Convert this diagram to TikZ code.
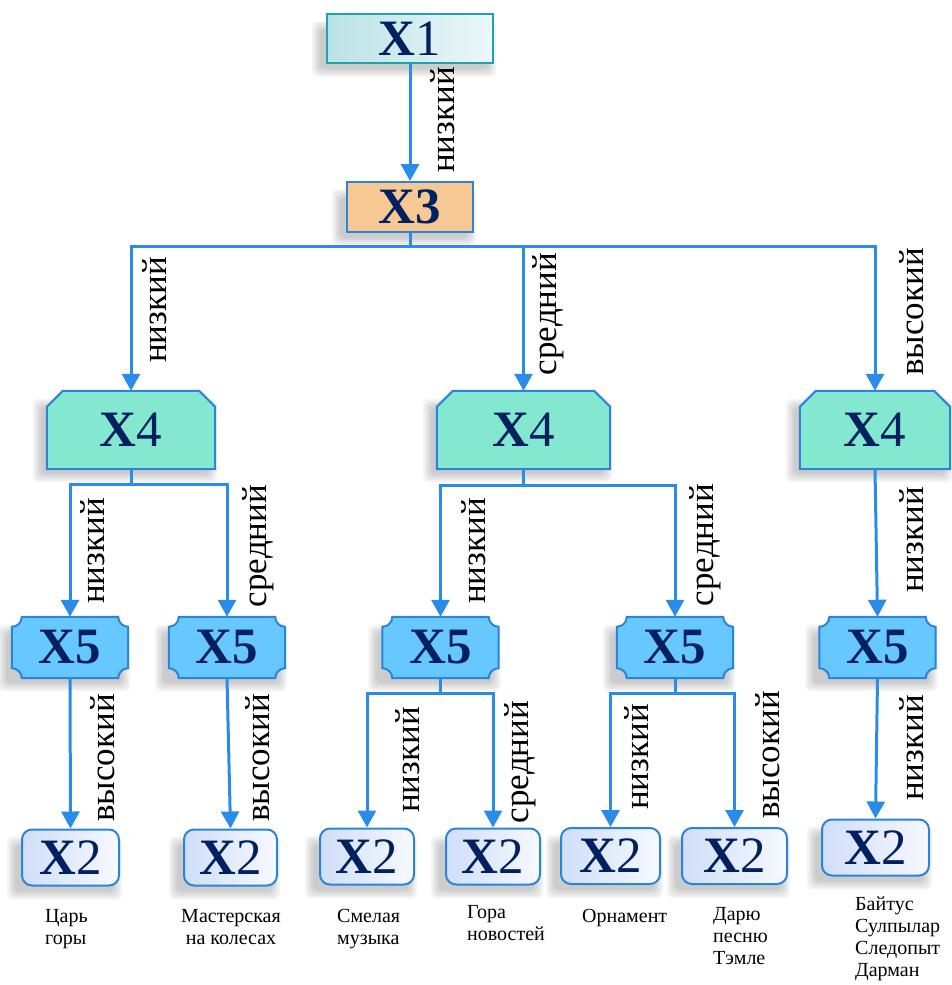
\documentclass[tikz,border=0pt]{standalone}
\usepackage{fontspec}
\setmainfont{Liberation Serif}
\usetikzlibrary{arrows.meta,calc}
\definecolor{navy}{RGB}{0,32,96}
\definecolor{lineblue}{RGB}{42,140,232}
\definecolor{tealb}{RGB}{30,165,172}
\definecolor{tealL}{RGB}{186,226,230}
\definecolor{tealR}{RGB}{236,247,248}
\definecolor{peach}{RGB}{247,200,148}
\definecolor{boxblue}{RGB}{44,132,218}
\definecolor{mint}{RGB}{132,232,208}
\definecolor{sky}{RGB}{102,200,255}
\definecolor{paleL}{RGB}{208,222,248}
\definecolor{paleR}{RGB}{246,249,255}
\pgfdeclarelayer{shl}
\pgfdeclarelayer{bgl}
\pgfsetlayers{shl,bgl,main}
\tikzset{
  conn/.style={line width=3pt, draw=lineblue},
  arr/.style={conn, -{Triangle[width=18pt,length=17pt]}},
  lbl/.style={rotate=90, font=\fontsize{35}{37}\selectfont, inner sep=0pt},
  xfont/.style={font=\fontsize{51}{51}\selectfont, text=navy, inner sep=0pt},
  boxone/.style={xfont, draw=tealb, line width=2pt, left color=tealL, right color=tealR, minimum width=166pt, minimum height=49pt},
  boxthree/.style={xfont, draw=boxblue, line width=2pt, fill=peach, minimum width=126pt, minimum height=50pt},
  boxfour/.style={xfont, minimum height=78pt},
  boxfive/.style={xfont, minimum width=116pt, minimum height=61pt},
  boxtwo/.style={xfont, draw=boxblue, line width=2pt, rounded corners=10pt, left color=paleL, right color=paleR, minimum height=56pt},
  fourshape/.style={draw=boxblue, line width=2pt, fill=mint},
  fiveshape/.style={draw=boxblue, line width=2pt, fill=sky},
  caption/.style={font=\fontsize{20}{22}\selectfont, inner sep=0pt, align=left, anchor=north west}
}
\newcommand\chamfbox[1]{\begin{pgfonlayer}{bgl}
  \draw[fourshape] ([xshift=16pt]#1.north west) -- ([xshift=-16pt]#1.north east) -- ([yshift=-16pt]#1.north east) -- (#1.south east) -- (#1.south west) -- ([yshift=-16pt]#1.north west) -- cycle;
\end{pgfonlayer}}
\newcommand\plaquebox[1]{\begin{pgfonlayer}{bgl}
  \draw[fiveshape] ([xshift=10pt]#1.north west) -- ([xshift=-10pt]#1.north east)
   .. controls ([xshift=-10pt,yshift=-5.5pt]#1.north east) and ([xshift=-5.5pt,yshift=-10pt]#1.north east) .. ([yshift=-10pt]#1.north east)
   -- ([yshift=10pt]#1.south east)
   .. controls ([xshift=-5.5pt,yshift=10pt]#1.south east) and ([xshift=-10pt,yshift=5.5pt]#1.south east) .. ([xshift=-10pt]#1.south east)
   -- ([xshift=10pt]#1.south west)
   .. controls ([xshift=10pt,yshift=5.5pt]#1.south west) and ([xshift=5.5pt,yshift=10pt]#1.south west) .. ([yshift=10pt]#1.south west)
   -- ([yshift=-10pt]#1.north west)
   .. controls ([xshift=5.5pt,yshift=-10pt]#1.north west) and ([xshift=10pt,yshift=-5.5pt]#1.north west) .. ([xshift=10pt]#1.north west) -- cycle;
\end{pgfonlayer}}
\newcommand\softshadow[1]{\begin{pgfonlayer}{shl}
  \foreach \s in {0,2,4,6,8}{
    \fill[black,opacity=0.045,rounded corners=6pt] ([xshift={(-6-\s)*1pt},yshift={(-5-\s)*1pt}]#1.south west) rectangle ([xshift={(-6+\s)*1pt},yshift={(-16+\s)*1pt}]#1.north east);
  }
\end{pgfonlayer}}
\begin{document}
\begin{tikzpicture}[x=1pt,y=-1pt]
\useasboundingbox (0,0) rectangle (952,985);
% top
\node[boxone] (x1) at (410,38.5) {\textbf{X}1};
\node[boxthree] (x3) at (410,207) {\textbf{X3}};
% level X4
\node[boxfour, minimum width=168pt] (x4a) at (131,430) {\textbf{X}4};
\node[boxfour, minimum width=173pt] (x4b) at (523.5,430) {\textbf{X}4};
\node[boxfour, minimum width=150pt] (x4c) at (875,430) {\textbf{X}4};
\chamfbox{x4a}\chamfbox{x4b}\chamfbox{x4c}
% level X5
\node[boxfive] (x5a) at (70,647.5) {\textbf{X5}};
\node[boxfive] (x5b) at (227,647.5) {\textbf{X5}};
\node[boxfive] (x5c) at (440.5,647.5) {\textbf{X5}};
\node[boxfive] (x5d) at (675,647.5) {\textbf{X5}};
\node[boxfive] (x5e) at (877.5,647.5) {\textbf{X5}};
\plaquebox{x5a}\plaquebox{x5b}\plaquebox{x5c}\plaquebox{x5d}\plaquebox{x5e}
% level X2
\node[boxtwo, minimum width=97pt] (x2a) at (70.5,857.5) {\textbf{X}2};
\node[boxtwo, minimum width=93pt] (x2b) at (230.5,857.5) {\textbf{X}2};
\node[boxtwo, minimum width=94pt] (x2c) at (367,856.5) {\textbf{X}2};
\node[boxtwo, minimum width=94pt] (x2d) at (493,856.5) {\textbf{X}2};
\node[boxtwo, minimum width=99pt] (x2e) at (610.5,856) {\textbf{X}2};
\node[boxtwo, minimum width=105pt] (x2f) at (734.5,856) {\textbf{X}2};
\node[boxtwo, minimum width=107pt] (x2g) at (875.5,847.5) {\textbf{X}2};
% shadows
\foreach \n in {x1,x3,x4a,x4b,x4c,x5a,x5b,x5c,x5d,x5e,x2a,x2b,x2c,x2d,x2e,x2f,x2g}{\softshadow{\n}}
% connectors
\draw[arr] (x1) -- (x3);
\coordinate (b3) at (410,246);
\draw[conn] (x3.south) -- (b3);
\draw[arr] (b3) -| (x4a.north);
\draw[arr] (b3) -| (x4b.north);
\draw[arr] (b3) -| (x4c.north);
\coordinate (b4a) at (131,484);
\draw[conn] (x4a.south) -- (b4a);
\draw[arr] (b4a) -| (x5a.north);
\draw[arr] (b4a) -| (x5b.north);
\coordinate (b4b) at (523.5,485);
\draw[conn] (x4b.south) -- (b4b);
\draw[arr] (b4b) -| (x5c.north);
\draw[arr] (b4b) -| (x5d.north);
\draw[arr] (x4c.south) -- (x5e.north);
\draw[arr] (x5a.south) -- (x2a.north);
\draw[arr] (x5b.south) -- (x2b.north);
\coordinate (b5c) at (440.5,693);
\draw[conn] (x5c.south) -- (b5c);
\draw[arr] (b5c) -| (x2c.north);
\draw[arr] (b5c) -| (x2d.north);
\coordinate (b5d) at (675,693);
\draw[conn] (x5d.south) -- (b5d);
\draw[arr] (b5d) -| (x2e.north);
\draw[arr] (b5d) -| (x2f.north);
\draw[arr] (x5e.south) -- (x2g.north);
% edge labels
\node[lbl] (l13) at (443,120) {низкий};
\node[lbl] (l34a) at (155,310) {низкий};
\node[lbl] (l34b) at (548,314) {средний};
\node[lbl] (l34c) at (912,312) {высокий};
\node[lbl] (l45a) at (93,551) {низкий};
\node[lbl] (l45b) at (258,546) {средний};
\node[lbl] (l45c) at (474,551) {низкий};
\node[lbl] (l45d) at (705,545) {средний};
\node[lbl] (l45e) at (912,540) {низкий};
\node[lbl] (l52a) at (103,758) {высокий};
\node[lbl] (l52b) at (258,758) {высокий};
\node[lbl] (l52c) at (408,760) {низкий};
\node[lbl] (l52d) at (520,762) {средний};
\node[lbl] (l52e) at (637,757) {низкий};
\node[lbl] (l52f) at (768,755) {высокий};
\node[lbl] (l52g) at (912,748) {низкий};
% captions
\node[caption] (t1) at (45,909) {Царь\\горы};
\node[caption, align=center, anchor=north] (t2) at (231,909) {Мастерская\\на колесах};
\node[caption] (t3) at (337,909) {Смелая\\музыка};
\node[caption] (t4) at (467,905) {Гора\\новостей};
\node[caption] (t5) at (582,909) {Орнамент};
\node[caption] (t6) at (713,907) {Дарю\\песню\\Тэмле};
\node[caption] (t7) at (855,897) {Байтус\\Сулпылар\\Следопыт\\Дарман};
\end{tikzpicture}
\end{document}
